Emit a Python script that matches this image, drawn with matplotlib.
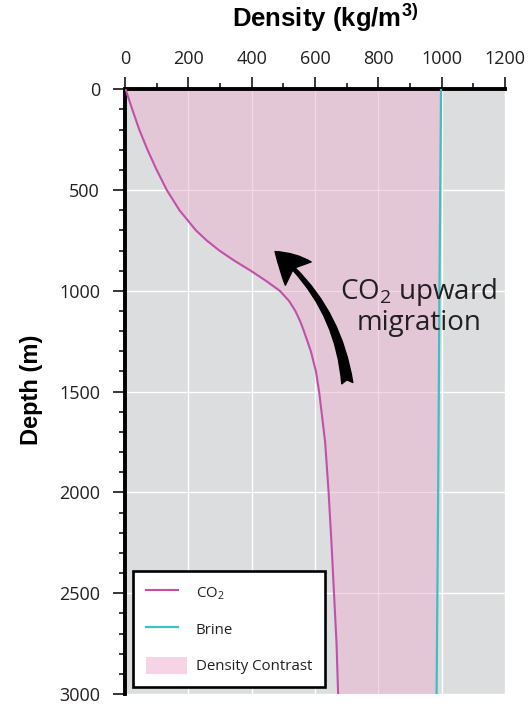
import numpy as np
import matplotlib
matplotlib.use("Agg")
import matplotlib.pyplot as plt
from matplotlib.patches import FancyArrowPatch, Patch
from matplotlib.lines import Line2D
from matplotlib.legend_handler import HandlerLine2D
from matplotlib.ticker import MultipleLocator

plt.rcParams["font.family"] = ["Open Sans", "DejaVu Sans"]
plt.rcParams["mathtext.fontset"] = "custom"
plt.rcParams["mathtext.rm"] = "Open Sans"
plt.rcParams["mathtext.bf"] = "Liberation Sans:bold"
plt.rcParams["mathtext.default"] = "rm"

# Density profiles versus depth
depth_co2 = [0, 100, 200, 300, 400, 500, 600, 700, 750, 800, 850, 900, 950,
             1000, 1050, 1100, 1150, 1200, 1300, 1400, 1500, 1750, 2000,
             2250, 2500, 2750, 3000]
density_co2 = [2, 23, 45, 71, 100, 132, 172, 224, 258, 298, 345, 397, 445,
               489, 518, 538, 553, 565, 587, 603, 613, 632, 643,
               652, 660, 668, 673]
depth_brine = [0, 1000, 2000, 3000]
density_brine = [998, 993, 989, 984]

x_ticks = [0, 200, 400, 600, 800, 1000, 1200]
y_ticks = [0, 500, 1000, 1500, 2000, 2500, 3000]

co2_color = "#C24FA9"
brine_color = "#3DBFC4"
fill_color = "#EBB5CF"
bg_color = "#DCDDDF"
text_color = "#231F20"

fig = plt.figure(figsize=(5.29, 7.06), dpi=100)
ax = fig.add_axes([125 / 529, 12 / 706, 380 / 529, 604.7 / 706])
ax.set_facecolor(bg_color)
ax.set_xlim(0, 1200)
ax.set_ylim(3000, 0)

# Grid beneath the translucent contrast fill
ax.set_axisbelow(True)
ax.grid(True, which="major", color="white", linewidth=1.0)

# Density contrast between brine and CO2
poly_x = list(density_co2) + list(density_brine[::-1])
poly_y = list(depth_co2) + list(depth_brine[::-1])
ax.fill(poly_x, poly_y, color=fill_color, alpha=0.55, linewidth=0, zorder=1)

ax.plot(density_co2, depth_co2, color=co2_color, linewidth=1.5, zorder=3,
        solid_joinstyle="round")
ax.plot(density_brine, depth_brine, color=brine_color, linewidth=1.6, zorder=3)

# Axes styling: heavy left and top spines only
for side in ("right", "bottom"):
    ax.spines[side].set_visible(False)
for side in ("left", "top"):
    ax.spines[side].set_linewidth(2.8)
    ax.spines[side].set_color("black")

ax.xaxis.tick_top()
ax.xaxis.set_label_position("top")
ax.set_xticks(x_ticks)
ax.set_yticks(y_ticks)
ax.xaxis.set_minor_locator(MultipleLocator(100))
ax.yaxis.set_minor_locator(MultipleLocator(100))
ax.tick_params(which="major", length=9, width=1.1, color="black",
               labelsize=13, labelcolor=text_color)
ax.tick_params(which="minor", length=4.5, width=1.1, color="black")
ax.tick_params(axis="x", which="both", top=True, bottom=False, pad=6)
ax.tick_params(axis="y", which="both", left=True, right=False, pad=9)

ax.set_xlabel(r"Density (kg/m$\mathbf{^{3)}}$", fontsize=18.5, fontweight="bold",
              family="Liberation Sans", color="black")
ax.xaxis.set_label_coords(0.526, 1.118)
ax.xaxis.label.set_va("center")
ax.set_ylabel("Depth (m)", fontsize=17, fontweight="bold",
              family="Liberation Sans", color="black")
ax.yaxis.set_label_coords(-0.245, 0.503)
ax.yaxis.label.set_va("center")

# Migration annotation
ax.text(928, 1079, "CO$_2$ upward\nmigration", fontsize=20, color=text_color,
        ha="center", va="center", linespacing=1.05, zorder=4)
arrow = FancyArrowPatch(posA=(702, 1458), posB=(474, 805),
                        connectionstyle="arc3,rad=0.2",
                        arrowstyle="fancy,head_length=1.15,head_width=1.25,tail_width=0.4",
                        mutation_scale=20, color="black", shrinkA=0, shrinkB=0,
                        zorder=5)
ax.add_patch(arrow)


class ShortLineHandler(HandlerLine2D):
    def create_artists(self, legend, orig_handle, xdescent, ydescent,
                       width, height, fontsize, trans):
        return super().create_artists(legend, orig_handle, xdescent, ydescent,
                                      width * 0.78, height, fontsize, trans)


handles = [
    Line2D([], [], color=co2_color, linewidth=1.5),
    Line2D([], [], color=brine_color, linewidth=1.6),
    Patch(facecolor="#F6D3E5", edgecolor="none"),
]
labels = ["CO$_2$", "Brine", "Density Contrast"]
leg = ax.legend(handles, labels, loc="lower left",
                bbox_to_anchor=(0.021, 0.0116), borderaxespad=0,
                fontsize=10.8, frameon=True, fancybox=False, framealpha=1,
                edgecolor="black", facecolor="white",
                handlelength=2.73, handleheight=1.38, handletextpad=0.6,
                labelspacing=1.25, borderpad=0.85,
                handler_map={Line2D: ShortLineHandler()})
leg.get_frame().set_linewidth(1.9)
for t in leg.get_texts():
    t.set_color(text_color)
leg.set_zorder(6)

fig.savefig("out.png", dpi=100)
